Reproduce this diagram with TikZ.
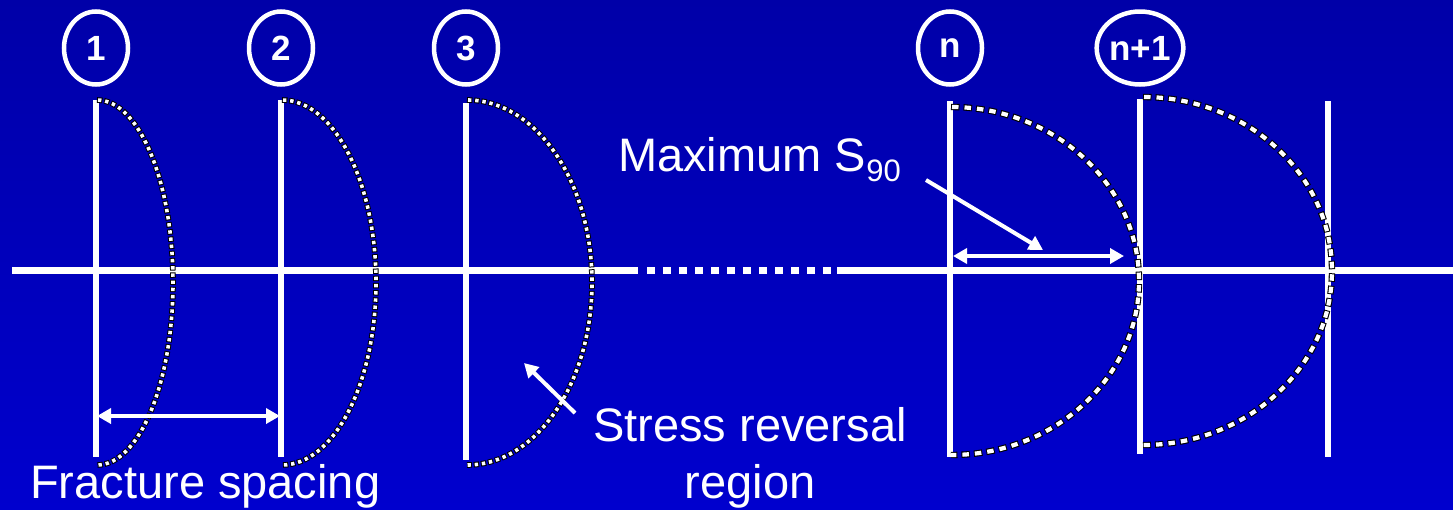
\documentclass[tikz,border=0pt]{standalone}
\usepackage{fontspec}
\setmainfont{Liberation Sans}
\usetikzlibrary{arrows.meta,shapes.geometric}
\definecolor{bgtop}{RGB}{0,0,168}
\definecolor{bgbot}{RGB}{0,0,206}

\begin{document}
\begin{tikzpicture}[x=1pt, y=-1pt, >={Triangle[length=14pt,width=15pt]},
        axis/.style={white, line width=7pt},
        frac/.style={white, line width=5.5pt},
        num/.style={draw=white, line width=4.5pt, ellipse, minimum width=64pt, minimum height=73pt,
            inner sep=0pt, text=white, font=\fontsize{35}{35}\selectfont\bfseries},
        lbl/.style={text=white, font=\fontsize{47}{57}\selectfont, inner sep=0pt},
        ptr/.style={white, line width=4pt},
        smalldots/.style={white, line width=3.6pt, dash pattern=on 3.4pt off 3.8pt, dash phase=6.2pt,
            preaction={draw=black, line width=5.6pt, dash pattern=on 5.4pt off 1.8pt, dash phase=0pt}},
        bigdots/.style={white, line width=4.2pt, dash pattern=on 6.5pt off 6pt, dash phase=11.5pt,
            preaction={draw=black, line width=6.4pt, dash pattern=on 8.5pt off 4pt, dash phase=0pt}}]
        \shade[top color=bgtop, bottom color=bgbot] (0,0) rectangle (1453,509);
        \useasboundingbox (0,0) rectangle (1453,509);
        \draw[axis] (12,270) -- (638,270);
        \draw[axis, dash pattern=on 8pt off 8pt] (647,270) -- (832,270);
        \draw[axis] (837,270) -- (1453,270);
        \foreach \x/\a/\b in {96/100/457, 281/100/457, 466/103/460, 950/101/457, 1140/99/454, 1328/101/457}
            \draw[frac] (\x,\a) -- (\x,\b);
        \coordinate (c1) at (97,100);
        \coordinate (c2) at (282,100);
        \coordinate (c3) at (467,100);
        \coordinate (cn) at (951,107);
        \coordinate (cm) at (1143,97);
        \draw[smalldots] (c1) arc[start angle=-90, end angle=90, x radius=76, y radius=182.5];
        \draw[smalldots] (c2) arc[start angle=-90, end angle=90, x radius=94, y radius=182.5];
        \draw[smalldots] (c3) arc[start angle=-90, end angle=90, x radius=125, y radius=182.5];
        \draw[bigdots] (cn) arc[start angle=-90, end angle=90, x radius=188, y radius=174];
        \draw[bigdots] (cm) arc[start angle=-90, end angle=90, x radius=189, y radius=174];
        \node[num] (n1) at (96,48) {1};
        \node[num] (n2) at (281,48) {2};
        \node[num] (n3) at (466,48) {3};
        \node[num] (nn) at (950,48) {n};
        \node[num, minimum width=83pt] (nm) at (1140,48) {n+1};
        \coordinate (fsa) at (97,416);
        \coordinate (fsb) at (280,416);
        \draw[ptr, <->] (fsa) -- (fsb);
        \coordinate (sra) at (575,413);
        \coordinate (srb) at (524,363);
        \draw[ptr, ->] (sra) -- (srb);
        \coordinate (msa) at (926,180);
        \coordinate (msb) at (1043,250);
        \draw[ptr, ->] (msa) -- (msb);
        \coordinate (mda) at (953,256);
        \coordinate (mdb) at (1124,256);
        \draw[ptr, <->] (mda) -- (mdb);
        \node[lbl, anchor=base west] (fs) at (30,498) {Fracture spacing};
        \node[lbl, anchor=base west] (ms) at (618,171) {Maximum S\raisebox{-10pt}{\fontsize{31}{31}\selectfont 90}};
        \node[lbl, align=center, anchor=base] (sr) at (750,498) {Stress reversal\\region};
    \end{tikzpicture}
\end{document}
